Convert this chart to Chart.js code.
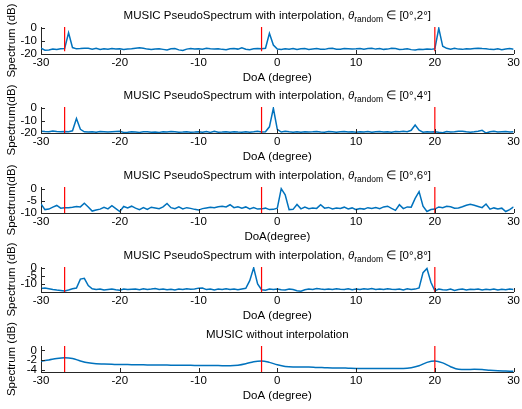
<!DOCTYPE html>
<html>
<head>
<meta charset="utf-8">
<script src="https://cdn.jsdelivr.net/npm/chart.js@4.4.1/dist/chart.umd.min.js"></script>
<style>
  html, body { margin: 0; padding: 0; background: #fff; }
  #wrap { position: relative; width: 522px; height: 409px; overflow: hidden; }
  #wrap canvas { position: absolute; left: 0; }
</style>
</head>
<body>
<div id="wrap"></div>
<script>
// DoA sample grids (degrees)
const doaGrid = [];
for (let d = -30; d <= 30; d += 0.5) doaGrid.push(d);
const doaCoarse = [];
for (let d = -30; d <= 30; d += 1) doaCoarse.push(d);

const trueDoA = [-27, -2, 20];
const xTicks = [-30, -20, -10, 0, 10, 20, 30];

// pseudo spectrum, theta_random in [0,2] deg
const spec2 = [
  -15.5, -17, -16.8, -16.2, -16.5, -16, -15.8, -3.5, -15, -16,
  -15.8, -15.5, -15.6, -16.2, -15.5, -16.5, -16, -16.3, -15.8, -16.2,
  -16, -16.5, -16.2, -16, -15.5, -15.2, -15.6, -16.2, -16.5, -16.2,
  -16, -16.4, -16.8, -16, -15.8, -16.8, -17.3, -16.2, -15.8, -16.2,
  -16, -16.3, -15.5, -16, -16.2, -16, -16.4, -16.6, -16, -15.8,
  -16.2, -15.2, -16.3, -16.6, -16, -15.8, -16, -15.5, -3.9, -13,
  -16.2, -16.5, -16, -16.3, -15.8, -16.5, -16, -15.7, -16.4, -16.1,
  -15.8, -16.3, -16.4, -15.8, -15.6, -16.3, -16.3, -15.8, -16, -16.2,
  -16, -15.7, -16.3, -15.8, -15.6, -16.2, -15.8, -16.4, -16.2, -15.6,
  -15.8, -16.5, -16.3, -15.9, -16.6, -16.8, -16.3, -16.5, -16.2, -16.4,
  -16, 0, -14, -15.6, -16.3, -15.5, -16.2, -16.4, -16, -16.2,
  -15.7, -15.5, -15.8, -16, -16.4, -16.5, -16, -16.6, -16.2, -15.8,
  -16.3
];

// theta_random in [0,4] deg
const spec4 = [
  -18.5, -18.8, -19, -18.3, -18.8, -19, -18.8, -18.9, -18.2, -8.3,
  -17, -19, -19.2, -19, -19.3, -18.8, -18.9, -19.2, -19, -18.8,
  -18.6, -19.5, -19.3, -19, -19.2, -19.5, -19, -18.9, -19.3, -19.2,
  -19.5, -19, -19.2, -18.8, -19, -19.4, -19.2, -18.9, -19.3, -19.2,
  -19, -19.4, -18.8, -19.5, -18.6, -19.3, -19.2, -19, -19.4, -19,
  -19.2, -19.3, -18.9, -19.3, -19, -18.6, -19.2, -19, -15, 0,
  -17, -19.2, -18.5, -19, -19.3, -19, -19.4, -18.9, -19.2, -19,
  -18.7, -19.2, -19.3, -18.8, -19, -19.3, -19, -18.8, -19.2, -19,
  -19.3, -18.9, -19.2, -18.8, -19.4, -19, -18.7, -19.2, -19, -19.3,
  -18.8, -19, -18.5, -19, -17.8, -13.5, -17.8, -19.3, -19, -19.2,
  -18.9, -19.4, -19.8, -18.8, -19.2, -19, -18.5, -18.6, -19, -19.3,
  -19, -18.5, -17.8, -20, -19, -18.6, -19.2, -19, -18.8, -19.2,
  -19
];

// theta_random in [0,6] deg
const spec6 = [
  -6.3, -8.6, -8.4, -7.6, -6.9, -8, -7.8, -7.8, -7.6, -7.3,
  -7.5, -6, -7.5, -9.2, -8.8, -8.4, -7.7, -8.3, -7, -8.2,
  -9.4, -7.3, -7.9, -7.2, -8, -8.6, -7.8, -8.5, -7.6, -7.9,
  -8.2, -7.5, -6.1, -7.8, -8.2, -7.5, -8.3, -7.8, -8.1, -8.5,
  -8.8, -8.2, -7.9, -7.6, -7.8, -7.4, -7.2, -7.5, -6.6, -7.8,
  -7.4, -8, -7.5, -8.3, -7.8, -8.4, -8.3, -8, -8.6, -8.5,
  -8, 0, -2.5, -8.6, -8.5, -6.5, -8.3, -7.6, -8.2, -7.9,
  -8.1, -6.6, -8, -7.7, -8.3, -7.9, -8.1, -7.6, -8.3, -7.9,
  -8.6, -8.2, -8.4, -7.8, -8.1, -7.7, -8.2, -7.5, -7.2, -8.1,
  -8.9, -6.6, -8.2, -7.5, -7.6, -4, -1.2, -7.2, -9.4, -8.6,
  -8.4, -7.5, -7.8, -7.2, -7.4, -8, -7.9, -7.4, -6.8, -6.4,
  -6.8, -7.3, -7.8, -6.3, -8.4, -7.9, -8.3, -8, -9.4, -8.6,
  -7.5
];

// theta_random in [0,8] deg
const spec8 = [
  -12.8, -12.5, -13, -13.5, -13.8, -14, -14.3, -13.8, -13, -12.5,
  -7, -6.5, -11, -13, -13.5, -13.2, -13.8, -13.5, -13.2, -13.6,
  -13.9, -13.2, -13.5, -13.3, -13.1, -13.6, -13, -13.4, -13.2, -12.8,
  -13.5, -13.2, -13.6, -13.3, -13.8, -13.2, -13.5, -13, -13.3, -13.1,
  -12.6, -12.5, -13.5, -13.2, -13.8, -13.2, -13.5, -13, -13.4, -13.2,
  -13.6, -13.1, -12.7, -8, 0, -10, -13.6, -13.9, -13.2, -13.5,
  -13.2, -13.6, -13.8, -13.1, -13.5, -14.2, -14.5, -13.6, -13.2, -13.4,
  -12.8, -13.2, -13.5, -13.1, -13.4, -13, -13.3, -13.5, -13, -13.6,
  -13.2, -13.4, -13, -13.3, -12.8, -13.4, -13.1, -13.5, -13, -13.3,
  -13.5, -13.2, -13.7, -13, -13.4, -13.2, -12.5, -3, -0.4, -9,
  -14.3, -13.2, -13.6, -13.8, -13.2, -14, -13.4, -13.2, -13.8, -13.3,
  -13.5, -13.1, -13.7, -13.3, -13.6, -13.2, -13.8, -13.3, -13.6, -13.2,
  -13.5
];

// plain MUSIC, 1 degree grid
const specNoInterp = [
  -2.25, -2.0, -1.7, -1.55, -1.7, -2.2, -2.6, -2.8, -2.85, -2.9,
  -2.95, -2.95, -3.0, -3.0, -3.05, -3.05, -3.05, -3.1, -3.1, -3.1,
  -3.15, -3.15, -3.15, -3.2, -3.2, -3.1, -2.8, -2.35, -2.2, -2.5,
  -3.0, -3.35, -3.45, -3.45, -3.45, -3.55, -3.6, -3.65, -3.65, -3.7,
  -3.75, -3.75, -3.75, -3.75, -3.75, -3.75, -3.75, -3.6, -3.2, -2.5,
  -2.2, -2.6, -3.4, -3.95, -4.0, -3.95, -4.0, -4.15, -4.25, -4.3,
  -4.35
];

const FONT = '"Liberation Sans", Arial, Helvetica, sans-serif';
const AXIS_COLOR = '#262626';

const panels = [
  { top: 0, plotH: 27, x: doaGrid, y: spec2, yMin: -20, yMax: 1, yTicks: [-20, -10, 0], redLow: -17.8,
    yLabel: 'Spectrum (dB)', xLabel: 'DoA (degree)', range: '2', smooth: false },
  { top: 80, plotH: 26, x: doaGrid, y: spec4, yMin: -20, yMax: 1, yTicks: [-20, -10, 0], redLow: -20,
    yLabel: 'Spectrum(dB)', xLabel: 'DoA (degree)', range: '4', smooth: false },
  { top: 160, plotH: 26, x: doaGrid, y: spec6, yMin: -10, yMax: 0.7, yTicks: [-10, -5, 0], redLow: -10,
    yLabel: 'Spectrum(dB)', xLabel: 'DoA(degree)', range: '6', smooth: false },
  { top: 240, plotH: 25, x: doaGrid, y: spec8, yMin: -15, yMax: 0.5, yTicks: [-10, -5, 0], redLow: -15,
    yLabel: 'Spectrum (dB)', xLabel: 'DoA (degree)', range: '8', smooth: false },
  { top: 319, plotH: 26, x: doaCoarse, y: specNoInterp, yMin: -4.5, yMax: 0.9, yTicks: [-4, -2, 0], redLow: -4.5,
    yLabel: 'Spectrum (dB)', xLabel: 'DoA (degree)', range: null, smooth: true }
];

const PAD_TOP = 27;
const X_AXIS_H = 32;

// title with italic theta and subscript, y label and inward tick marks
const decorPlugin = {
  id: 'decor',
  afterDraw(chart, args, opts) {
    const ctx = chart.ctx;
    const area = chart.chartArea;
    ctx.save();
    ctx.fillStyle = '#000';
    ctx.textBaseline = 'middle';

    // title
    const main = '11.5px ' + FONT;
    let parts;
    if (opts.range) {
      parts = [
        { t: 'MUSIC PseudoSpectrum with interpolation, ', f: main, dy: 0 },
        { t: '\u03b8', f: 'italic 11.5px ' + FONT, dy: 0 },
        { t: 'random', f: '8.5px ' + FONT, dy: 3.5 },
        { t: ' \u2208 [0\u00b0,' + opts.range + '\u00b0]', f: main, dy: 0 }
      ];
    } else {
      parts = [{ t: 'MUSIC without interpolation', f: main, dy: 0 }];
    }
    let total = 0;
    parts.forEach(p => { ctx.font = p.f; p.w = ctx.measureText(p.t).width; total += p.w; });
    let x = (area.left + area.right) / 2 - total / 2;
    const ty = area.top - 11;
    ctx.textAlign = 'left';
    parts.forEach(p => { ctx.font = p.f; ctx.fillText(p.t, x, ty + p.dy); x += p.w; });

    // y label
    ctx.font = main;
    ctx.textAlign = 'center';
    ctx.translate(12, (area.top + area.bottom) / 2);
    ctx.rotate(-Math.PI / 2);
    ctx.fillText(opts.yLabel, 0, 0);
    ctx.restore();

    // inward ticks
    ctx.save();
    ctx.strokeStyle = AXIS_COLOR;
    ctx.lineWidth = 1;
    const ys = chart.scales.y, xs = chart.scales.x;
    ctx.beginPath();
    ys.ticks.forEach(t => {
      const py = Math.round(ys.getPixelForValue(t.value)) + 0.5;
      ctx.moveTo(area.left, py);
      ctx.lineTo(area.left + 4, py);
    });
    xs.ticks.forEach(t => {
      const px = Math.round(xs.getPixelForValue(t.value)) + 0.5;
      ctx.moveTo(px, area.bottom);
      ctx.lineTo(px, area.bottom - 4);
    });
    ctx.stroke();
    ctx.restore();
  }
};

const wrap = document.getElementById('wrap');

panels.forEach(p => {
  const h = PAD_TOP + p.plotH + X_AXIS_H;
  const canvas = document.createElement('canvas');
  canvas.width = 522;
  canvas.height = h;
  canvas.style.top = p.top + 'px';
  canvas.style.width = '522px';
  canvas.style.height = h + 'px';
  wrap.appendChild(canvas);

  const spectrum = p.x.map((d, i) => ({ x: d, y: p.y[i] }));
  const redSets = trueDoA.map(d => ({
    data: [{ x: d, y: p.redLow }, { x: d, y: p.yMax }],
    borderColor: '#ff0000',
    borderWidth: 1.2,
    pointRadius: 0,
    showLine: true,
    order: 0
  }));

  new Chart(canvas, {
    type: 'scatter',
    data: {
      datasets: [
        ...redSets,
        {
          data: spectrum,
          borderColor: '#0072bd',
          borderWidth: 1.5,
          pointRadius: 0,
          showLine: true,
          tension: p.smooth ? 0.4 : 0,
          cubicInterpolationMode: p.smooth ? 'monotone' : 'default',
          order: 1
        }
      ]
    },
    options: {
      responsive: false,
      animation: false,
      devicePixelRatio: 1,
      layout: { autoPadding: false, padding: { top: PAD_TOP, right: 6, left: 0, bottom: 0 } },
      plugins: {
        legend: { display: false },
        tooltip: { enabled: false },
        decor: { range: p.range, yLabel: p.yLabel }
      },
      scales: {
        x: {
          type: 'linear',
          min: -30,
          max: 30,
          afterBuildTicks: s => { s.ticks = xTicks.map(v => ({ value: v })); },
          afterFit: s => { s.height = X_AXIS_H; },
          grid: { display: false, drawTicks: false },
          border: { display: true, color: AXIS_COLOR, width: 1 },
          ticks: { color: '#000', padding: 2, autoSkip: false, font: { family: FONT, size: 11.5 }, maxRotation: 0 },
          title: { display: true, text: p.xLabel, color: '#000', font: { family: FONT, size: 11.5 }, padding: { top: 0, bottom: 1 } }
        },
        y: {
          type: 'linear',
          min: p.yMin,
          max: p.yMax,
          afterBuildTicks: s => { s.ticks = p.yTicks.map(v => ({ value: v })); },
          afterFit: s => { s.width = 41; },
          grid: { display: false, drawTicks: false },
          border: { display: true, color: AXIS_COLOR, width: 1 },
          ticks: { color: '#000', padding: 4, autoSkip: false, font: { family: FONT, size: 11.5 } }
        }
      }
    },
    plugins: [decorPlugin]
  });
});
</script>
</body>
</html>
